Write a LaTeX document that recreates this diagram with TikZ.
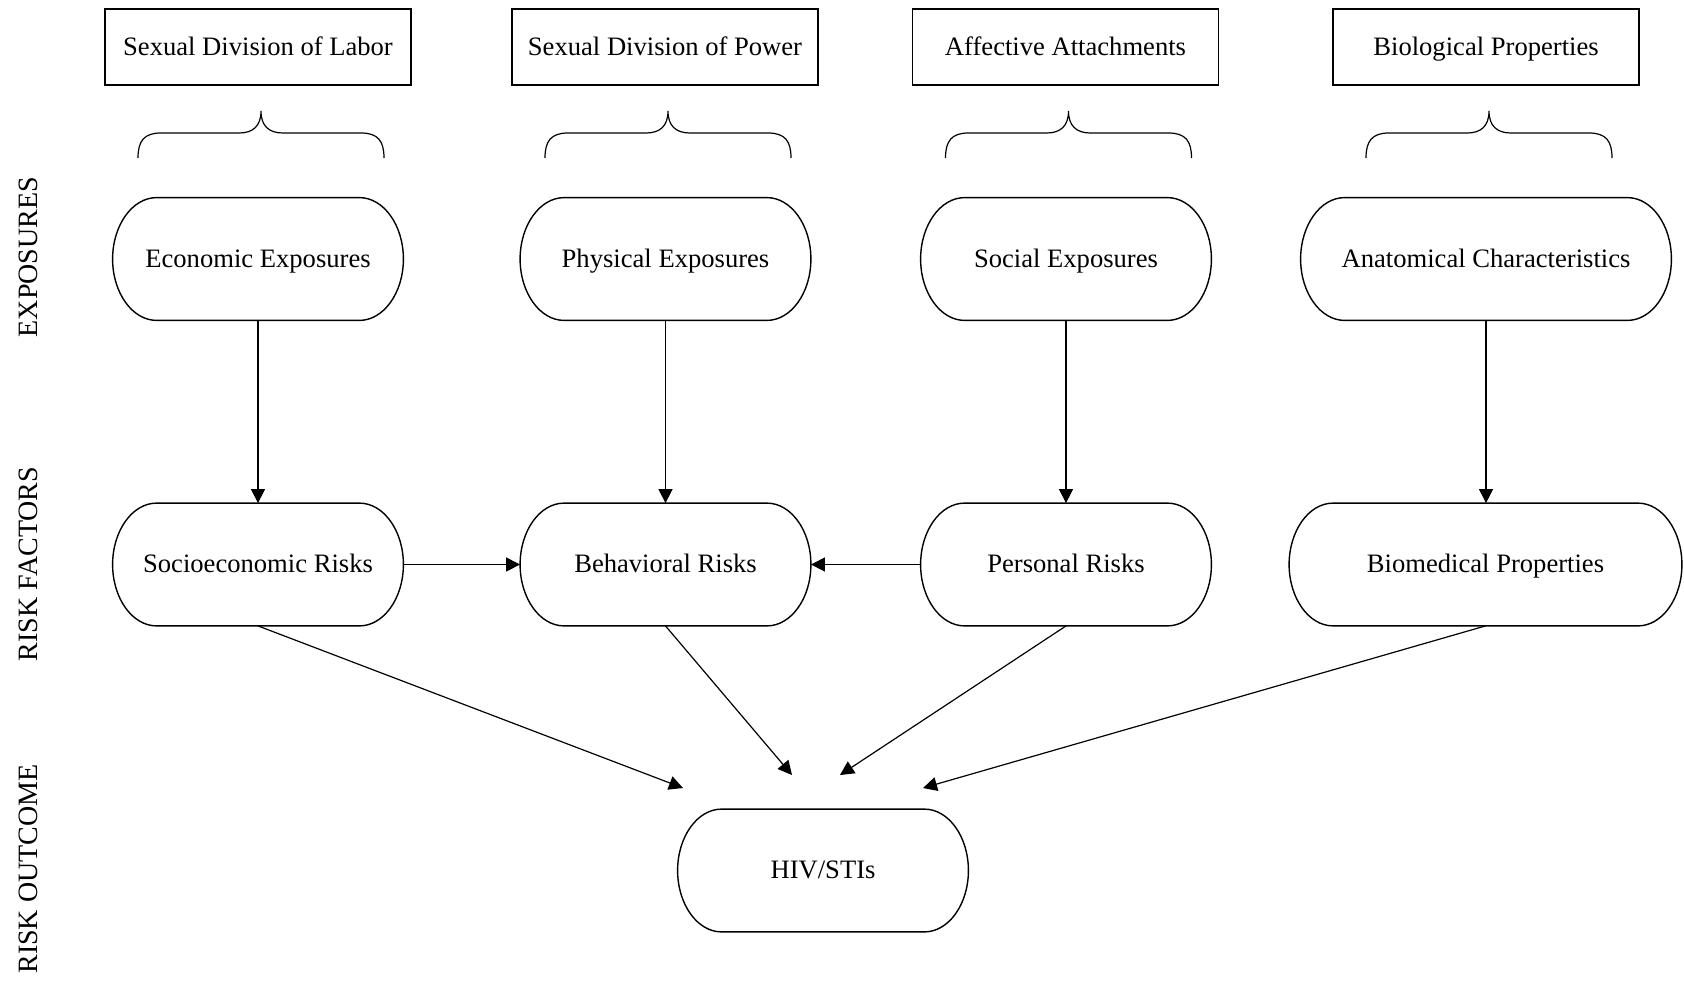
\documentclass[tikz,border=0pt]{standalone}
\usepackage{fontspec}
\setmainfont{Liberation Serif}
\usetikzlibrary{arrows.meta}
\begin{document}
\begin{tikzpicture}[x=0.5pt,y=-0.5pt,
  lbl/.style={font=\fontsize{13.3}{16}\selectfont, inner sep=0pt,
    text height=1.0em, text depth=0.2em},
  topbox/.style={lbl, draw, line width=0.7pt, minimum width=153pt, minimum height=38pt},
  % stadium outline with elliptical ends, drawn round the node
  pill/.style={lbl, minimum width=145pt, minimum height=61pt,
    append after command={\pgfextra{
      \draw[line width=0.7pt]
        ([xshift=22pt]\tikzlastnode.north west) -- ([xshift=-22pt]\tikzlastnode.north east)
        .. controls +(12.15pt,0) and +(0,16.85pt) .. (\tikzlastnode.east)
        .. controls +(0,-16.85pt) and +(12.15pt,0) .. ([xshift=-22pt]\tikzlastnode.south east)
        -- ([xshift=22pt]\tikzlastnode.south west)
        .. controls +(-12.15pt,0) and +(0,-16.85pt) .. (\tikzlastnode.west)
        .. controls +(0,16.85pt) and +(-12.15pt,0) .. ([xshift=22pt]\tikzlastnode.north west)
        -- cycle;
    }}},
  tier/.style={font=\fontsize{14}{16}\selectfont, rotate=90, inner sep=0pt},
  link/.style={line width=0.6pt, -{Triangle[length=7pt,width=7pt]}},
  curlybrace/.pic={
    \draw[line width=0.6pt] (-123,47) .. controls (-123,30) and (-117,22) .. (-100,22)
      -- (-22,22) .. controls (-8,22) and (0,15) .. (0,0)
      .. controls (0,15) and (8,22) .. (22,22)
      -- (100,22) .. controls (117,22) and (123,30) .. (123,47);
  }
]
\useasboundingbox (0,0) rectangle (1684,980);

% tier labels on the left
\node[tier] (L1) at (28,257) {EXPOSURES};
\node[tier] (L2) at (28,564) {RISK FACTORS};
\node[tier] (L3) at (28,869) {RISK OUTCOME};

% source categories
\node[topbox] (t1) at (258,47) {Sexual Division of Labor};
\node[topbox] (t2) at (665,47) {Sexual Division of Power};
\node[topbox] (t3) at (1065.5,47) {Affective Attachments};
\node[topbox] (t4) at (1486,47) {Biological Properties};

% braces under each category
\pic at (261,111) {curlybrace};
\pic at (668,111) {curlybrace};
\pic at (1068.5,111) {curlybrace};
\pic at (1489,111) {curlybrace};

% exposures
\node[pill] (e1) at (258,259) {Economic Exposures};
\node[pill] (e2) at (665.5,259) {Physical Exposures};
\node[pill] (e3) at (1066,259) {Social Exposures};
\node[pill, minimum width=185pt] (e4) at (1486,259) {Anatomical Characteristics};

% risk factors
\node[pill] (r1) at (258,564.5) {Socioeconomic Risks};
\node[pill] (r2) at (665.5,564.5) {Behavioral Risks};
\node[pill] (r3) at (1066,564.5) {Personal Risks};
\node[pill, minimum width=196pt] (r4) at (1485.5,564.5) {Biomedical Properties};

% outcome
\node[pill] (o) at (823,870.5) {HIV/STIs};

% arrow ends above the outcome
\coordinate (h1) at (683,788);
\coordinate (h2) at (792,775);
\coordinate (h3) at (840,775);
\coordinate (h4) at (923,788);

% connectors
\draw[link] (e1) -- (r1);
\draw[link] (e2) -- (r2);
\draw[link] (e3) -- (r3);
\draw[link] (e4.south) -- (e4.south |- r4.north);
\draw[link] (r1) -- (r2);
\draw[link] (r3) -- (r2);
\draw[link] (r1.south) -- (h1);
\draw[link] (r2.south) -- (h2);
\draw[link] (r3.south) -- (h3);
\draw[link] (r4.south) -- (h4);
\end{tikzpicture}
\end{document}
